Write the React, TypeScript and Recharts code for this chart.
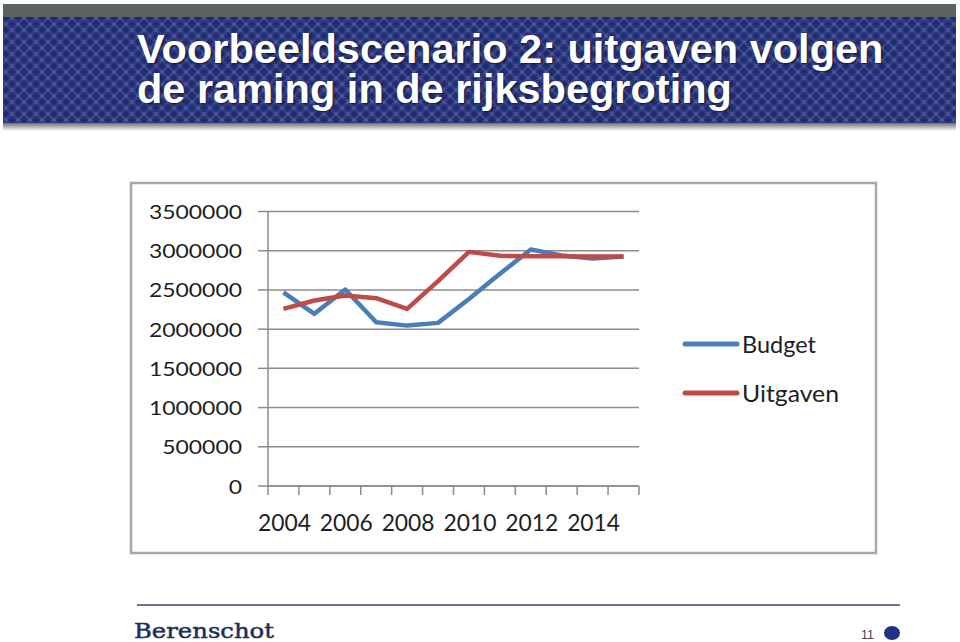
import React from 'react';
import { LineChart, Line, XAxis, YAxis, CartesianGrid, Legend } from 'recharts';

const YEARS = ['2004', '2005', '2006', '2007', '2008', '2009', '2010', '2011', '2012', '2013', '2014', '2015'];
const BUDGET = [2470000, 2195000, 2505000, 2088000, 2045000, 2080000, 2385000, 2705000, 3015000, 2940000, 2900000, 2925000];
const UITGAVEN = [2258000, 2365000, 2428000, 2395000, 2258000, 2612000, 2985000, 2935000, 2930000, 2930000, 2925000, 2925000];
const Y_TICKS = [0, 500000, 1000000, 1500000, 2000000, 2500000, 3000000, 3500000];
const SERIES_NAMES = ['Budget', 'Uitgaven'];
const TITLE_LINES = ['Voorbeeldscenario 2: uitgaven volgen', 'de raming in de rijksbegroting'];

const data = YEARS.map((year, i) => ({ year, Budget: BUDGET[i], Uitgaven: UITGAVEN[i] }));

const W = 960;
const H = 642;
const MARGIN = { top: 211.5, right: 321, bottom: 106, left: 188 };
const YAXIS_W = 80;
const XAXIS_H = 50;
const PLOT_W = W - MARGIN.left - MARGIN.right - YAXIS_W;
const BW = PLOT_W / YEARS.length;

const BLUE = '#4a7ebb';
const RED = '#be4b48';
const GRID = '#8c8c8c';
const TEXT = '#1e1e1e';
const FONT = 'Lato, "Open Sans", sans-serif';

const YTick = (props: any) => {
  const { x, y, payload } = props;
  const s = String(payload.value);
  return (
    <text x={x} y={y} dy={7.5} textAnchor="end" fontFamily={FONT} fontSize={20} fill={TEXT}
      textLength={s.length * 13.3} lengthAdjust="spacingAndGlyphs">{s}</text>
  );
};

const XTick = (props: any) => {
  const { x, y, payload, index } = props;
  const half = BW / 2;
  return (
    <g>
      <line x1={x - half} x2={x - half} y1={y} y2={y + 9} stroke={GRID} strokeWidth={1.5} />
      {index === YEARS.length - 1 && (
        <line x1={x + half} x2={x + half} y1={y} y2={y + 9} stroke={GRID} strokeWidth={1.5} />
      )}
      {index % 2 === 0 && (
        <text x={x + 1} y={y + 45} textAnchor="middle" fontFamily={FONT} fontSize={23.5} fill={TEXT}
          textLength={53} lengthAdjust="spacingAndGlyphs">{payload.value}</text>
      )}
    </g>
  );
};

const LegendContent = () => {
  const colors = [BLUE, RED];
  const lens = [74, 97];
  return (
    <svg width={180} height={90} style={{ display: 'block' }}>
      {SERIES_NAMES.map((n, i) => (
        <g key={n}>
          <line x1={7} x2={59} y1={22 + i * 49} y2={22 + i * 49} stroke={colors[i]} strokeWidth={5} strokeLinecap="round" />
          <text x={64} y={22 + i * 49} dy={8.5} fontFamily={FONT} fontSize={23} fill={TEXT}
            textLength={lens[i]} lengthAdjust="spacingAndGlyphs">{n}</text>
        </g>
      ))}
    </svg>
  );
};

export default function App() {
  return (
    <div style={{ position: 'absolute', left: 0, top: 0, width: W, height: H, background: '#fff', overflow: 'hidden' }}>
      <svg width={W} height={H} style={{ position: 'absolute', left: 0, top: 0 }}>
        <defs>
          <pattern id="hdr" width="12" height="12" patternUnits="userSpaceOnUse">
            <rect width="12" height="12" fill="#1f2b72" />
            <circle cx="6" cy="6" r="5.4" fill="none" stroke="#8088c0" strokeWidth="0.8" opacity="0.5" />
            <circle cx="0" cy="0" r="5.4" fill="none" stroke="#8088c0" strokeWidth="0.8" opacity="0.5" />
            <circle cx="12" cy="0" r="5.4" fill="none" stroke="#8088c0" strokeWidth="0.8" opacity="0.5" />
            <circle cx="0" cy="12" r="5.4" fill="none" stroke="#8088c0" strokeWidth="0.8" opacity="0.5" />
            <circle cx="12" cy="12" r="5.4" fill="none" stroke="#8088c0" strokeWidth="0.8" opacity="0.5" />
          </pattern>
          <linearGradient id="shd" x1="0" y1="0" x2="0" y2="1">
            <stop offset="0" stopColor="#6f6f6f" />
            <stop offset="1" stopColor="#ffffff" />
          </linearGradient>
        </defs>
        <rect x={3} y={123} width={953} height={8} fill="url(#shd)" />
        <rect x={3} y={4} width={953} height={13} fill="#5c635e" />
        <rect x={3} y={17} width={953} height={106} fill="url(#hdr)" />
        <text fontFamily='"Liberation Sans", Arial, sans-serif' fontWeight="bold" fontSize={41.5} fill="#ffffff"
          style={{ textShadow: '1px 1px 2px rgba(0,0,0,0.6)' }}>
          {TITLE_LINES.map((t, i) => (
            <tspan key={i} x={137} y={63 + i * 39.5}>{t}</tspan>
          ))}
        </text>
        <rect x={131} y={183} width={745} height={370} fill="#fff" stroke="#a8a8a8" strokeWidth={2.5} />
        <line x1={137} x2={900} y1={605} y2={605} stroke="#3b4672" strokeWidth={1.5} />
        <text x={134} y={638} fontFamily='"DejaVu Serif", serif' fontSize={21} fill="#1c2f5c"
          stroke="#1c2f5c" strokeWidth={0.5}
          textLength={140} lengthAdjust="spacingAndGlyphs">Berenschot</text>
        <text x={861} y={639} fontFamily='"Liberation Sans", Arial, sans-serif' fontSize={12.5} fill="#444">11</text>
        <ellipse cx={892} cy={633} rx={8} ry={7} fill="#1e3189" />
      </svg>
      <div style={{ position: 'absolute', left: 0, top: 0 }}>
        <LineChart width={W} height={H} data={data} margin={MARGIN}>
          <CartesianGrid horizontal vertical={false} stroke={GRID} strokeWidth={1.5} />
          <XAxis dataKey="year" height={XAXIS_H} interval={0} tickSize={0} tickMargin={0}
            padding={{ left: BW / 2, right: BW / 2 }}
            axisLine={{ stroke: GRID, strokeWidth: 1.5 }} tickLine={false} tick={<XTick />} />
          <YAxis width={YAXIS_W} domain={[0, 3500000]} ticks={Y_TICKS} interval={0} tickSize={10} tickMargin={16}
            axisLine={{ stroke: GRID, strokeWidth: 1.5 }} tickLine={{ stroke: GRID, strokeWidth: 1.5 }} tick={<YTick />} />
          <Legend layout="vertical" align="center" verticalAlign="middle" content={<LegendContent />}
            wrapperStyle={{ left: 678, top: 322, width: 180 }} />
          <Line type="linear" dataKey="Budget" stroke={BLUE} strokeWidth={4.5} dot={false} strokeLinejoin="round" isAnimationActive={false} />
          <Line type="linear" dataKey="Uitgaven" stroke={RED} strokeWidth={4.5} dot={false} strokeLinejoin="round" isAnimationActive={false} />
        </LineChart>
      </div>
    </div>
  );
}
